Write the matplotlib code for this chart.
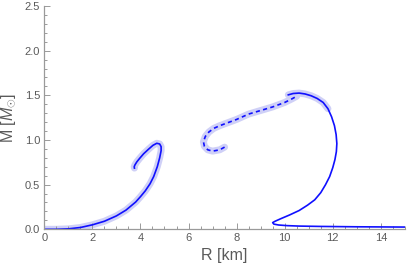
import matplotlib
matplotlib.use("Agg")
import matplotlib.pyplot as plt
from matplotlib.ticker import MultipleLocator


# branch 1: low-radius curve (band + solid)
r_left = [0.0, 0.5, 1.0, 1.5, 2.0, 2.5, 3.0, 3.4, 3.8, 4.0, 4.2, 4.4, 4.55,
          4.7, 4.8, 4.86, 4.86, 4.8, 4.68, 4.52, 4.33, 4.13, 3.97, 3.85, 3.77,
          3.74, 3.75]
m_left = [0.0, 0.0, 0.005, 0.02, 0.05, 0.09, 0.15, 0.215, 0.305, 0.365, 0.43,
          0.51, 0.59, 0.70, 0.80, 0.88, 0.925, 0.955, 0.963, 0.94, 0.895,
          0.845, 0.795, 0.755, 0.72, 0.70, 0.685]

# branch 2: middle dashed curve (band + dashed)
r_mid = [7.5, 7.3, 7.0, 6.8, 6.66, 6.62, 6.7, 6.85, 7.05, 7.3, 7.6, 8.0,
         8.5, 9.0, 9.5, 10.0, 10.3, 10.5]
m_mid = [0.92, 0.89, 0.875, 0.89, 0.93, 0.98, 1.04, 1.09, 1.13, 1.16, 1.19,
         1.23, 1.29, 1.33, 1.37, 1.42, 1.46, 1.49]

# branch 3: right solid curve
r_right = [10.15, 10.35, 10.6, 10.85, 11.1, 11.35, 11.6, 11.8, 11.95, 12.07,
           12.14, 12.17, 12.15, 12.09, 12.0, 11.87, 11.7, 11.5, 11.25, 10.95,
           10.6, 10.2, 9.85, 9.6, 9.5, 9.55, 9.75, 10.1, 10.6, 11.5, 13.0, 15.0]
m_right = [1.505, 1.52, 1.525, 1.515, 1.495, 1.465, 1.42, 1.35, 1.26, 1.16,
           1.06, 0.96, 0.87, 0.78, 0.69, 0.59, 0.50, 0.41, 0.33, 0.27, 0.21,
           0.16, 0.12, 0.09, 0.075, 0.058, 0.048, 0.041, 0.036, 0.032, 0.028,
           0.025]

# highlighted part of branch 3
r_right_band = [10.15, 10.35, 10.6, 10.85, 11.1, 11.35, 11.6, 11.8]
m_right_band = [1.505, 1.52, 1.525, 1.515, 1.495, 1.465, 1.42, 1.35]

LINE = "#1010ff"
BAND = "#cfd0f7"
AXIS = "#9a9a9a"
TEXT = "#5a5a5a"

plt.rcParams["font.family"] = ["Liberation Sans", "DejaVu Sans"]
plt.rcParams["mathtext.fontset"] = "custom"
plt.rcParams["mathtext.it"] = "Liberation Sans:italic"
plt.rcParams["mathtext.rm"] = "Liberation Sans"

fig = plt.figure(figsize=(4.07, 2.72), dpi=100)
ax = fig.add_axes([0.1088, 0.157, 0.886, 0.821])

band_kw = dict(color=BAND, lw=5.0, solid_capstyle="round", solid_joinstyle="round", zorder=1)
ax.plot(r_left, m_left, **band_kw)
ax.plot(r_mid, m_mid, **band_kw)
ax.plot(r_right_band, m_right_band, **band_kw)

ax.plot(r_left, m_left, color=LINE, lw=1.2, zorder=2)
ax.plot(r_mid, m_mid, color=LINE, lw=1.2, ls=(0, (2.5, 2.0)), zorder=2)
ax.plot(r_right, m_right, color=LINE, lw=1.2, zorder=2)

ax.set_xlim(0, 15)
ax.set_ylim(0, 2.5)
ax.xaxis.set_major_locator(MultipleLocator(2))
ax.xaxis.set_minor_locator(MultipleLocator(0.5))
ax.yaxis.set_major_locator(MultipleLocator(0.5))
ax.yaxis.set_minor_locator(MultipleLocator(0.1))
ax.yaxis.set_major_formatter(plt.FormatStrFormatter("%.1f"))

for side in ("top", "right"):
    ax.spines[side].set_visible(False)
for side in ("left", "bottom"):
    ax.spines[side].set_color(AXIS)
    ax.spines[side].set_linewidth(0.9)

ax.tick_params(which="both", direction="in", colors=AXIS, labelcolor=TEXT,
               labelsize=8, width=0.7)
ax.tick_params(which="major", length=4, pad=3)
ax.tick_params(which="minor", length=2)

ax.set_xlabel("R [km]", fontsize=11.5, color=TEXT, labelpad=3)
ax.set_ylabel(r"M [$M_{\odot}$]", fontsize=11.5, color=TEXT, labelpad=5)

fig.savefig("out.png", dpi=100)
